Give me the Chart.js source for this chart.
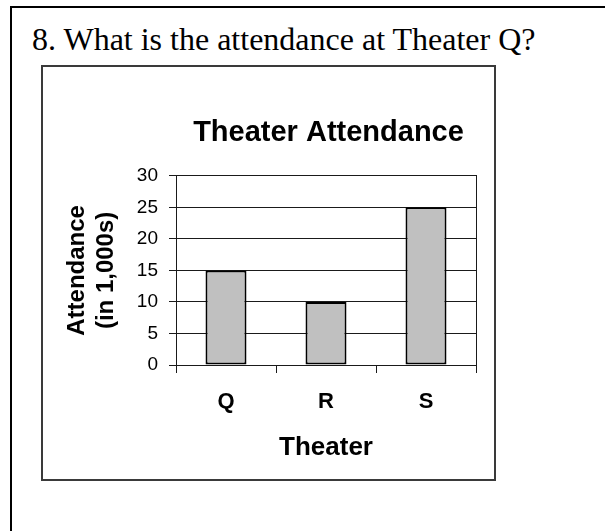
<!DOCTYPE html>
<html>
<head>
<meta charset="utf-8">
<script src="https://cdn.jsdelivr.net/npm/chart.js@4"></script>
<style>
  html, body { margin: 0; padding: 0; background: #fff; }
  body { width: 608px; height: 531px; position: relative; overflow: hidden; }
  .outer { position: absolute; left: 10px; top: 6px; width: 593px; height: 600px;
           border-top: 2px solid #000; border-left: 2px solid #000; }
  .question { position: absolute; left: 32px; top: 21px; line-height: 32px;
              font: 32px "Liberation Serif", "Times New Roman", serif; color: #000; white-space: nowrap; }
  .frame { position: absolute; left: 41px; top: 65px; width: 451px; height: 412px;
           border: 2px solid #3a3a3a; }
  canvas { position: absolute; left: 0; top: 0; }
</style>
</head>
<body>
<div class="outer"></div>
<div class="question">8. What is the attendance at Theater Q?</div>
<div class="frame"></div>
<canvas id="chart" width="608" height="531"></canvas>
<script>
"use strict";

// Data ----------------------------------------------------------------------
const theaters = ["Q", "R", "S"];
const attendance = [15, 10, 25]; // in 1,000s
const yTicks = [0, 5, 10, 15, 20, 25, 30];

const chartTitle = "Theater Attendance";
const xTitle = "Theater";
const yTitle = ["Attendance", "(in 1,000s)"];

// Chart ---------------------------------------------------------------------
const FONT = "'Liberation Sans', Arial, sans-serif";
const LINE = "#1a1a1a";

new Chart(document.getElementById("chart"), {
  type: "bar",
  data: {
    labels: theaters,
    datasets: [{
      data: attendance,
      backgroundColor: "#c0c0c0",
      borderColor: "#000",
      borderWidth: 2,
      borderSkipped: false,
      categoryPercentage: 1,
      barPercentage: 0.41,
    }],
  },
  options: {
    responsive: false,
    animation: false,
    layout: { padding: { left: 63, right: 14, top: 66, bottom: 66 } },
    plugins: {
      legend: { display: false },
      tooltip: { enabled: false },
      title: {
        display: true,
        text: chartTitle,
        color: "#000",
        font: { family: FONT, size: 29, weight: "bold" },
        padding: { top: 50, bottom: 25 },
      },
    },
    scales: {
      x: {
        grid: { offset: true, drawOnChartArea: false, tickLength: 8, color: LINE },
        border: { color: LINE },
        ticks: { color: "#000", padding: 16, font: { family: FONT, size: 22, weight: "bold" } },
        title: {
          display: true,
          text: xTitle,
          color: "#000",
          font: { family: FONT, size: 26, weight: "bold" },
          padding: { top: 0, bottom: 2 },
        },
        afterFit: (s) => { s.height = 100; },
      },
      y: {
        min: 0,
        max: 30,
        afterBuildTicks: (s) => { s.ticks = yTicks.map((v) => ({ value: v })); },
        grid: { color: LINE, tickLength: 7 },
        border: { color: LINE },
        ticks: { color: "#000", padding: 11, font: { family: FONT, size: 19 } },
        title: {
          display: true,
          text: yTitle,
          color: "#000",
          font: { family: FONT, size: 24, weight: "bold" },
          padding: { top: 0, bottom: 0 },
        },
        afterFit: (s) => { s.width = 113; },
      },
      // right-hand edge of the plot area
      y2: {
        position: "right",
        grid: { drawOnChartArea: false, drawTicks: false },
        border: { color: LINE },
        ticks: { display: false },
        afterFit: (s) => { s.width = 118; },
      },
    },
  },
});
</script>
</body>
</html>
